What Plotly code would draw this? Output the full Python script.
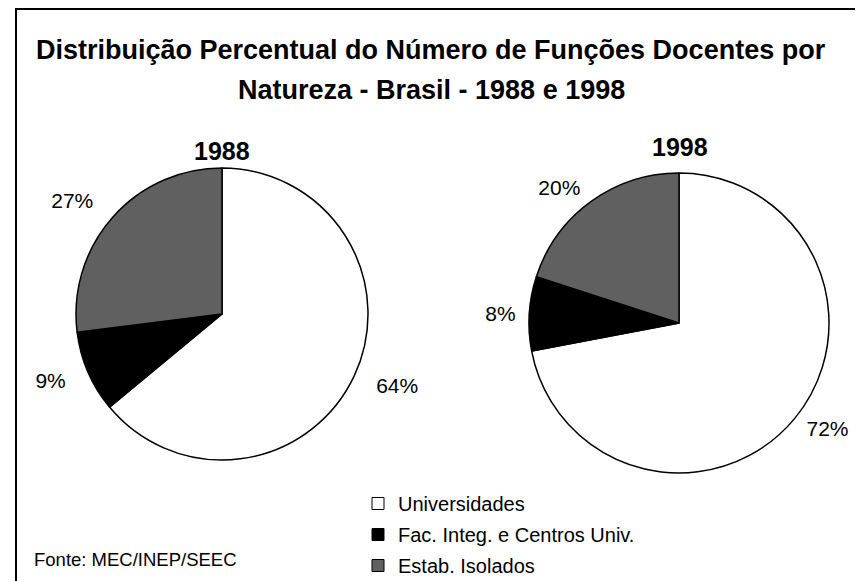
import plotly.graph_objects as go

labels = ['Universidades', 'Fac. Integ. e Centros Univ.', 'Estab. Isolados']
values_1988 = [64, 9, 27]
values_1998 = [72, 8, 20]
colors = ['#ffffff', '#000000', '#606060']

W, H = 863, 581
OFF = 8  # the page body adds an 8px margin, so shift everything up/left
FONT = 'Arial, Liberation Sans, sans-serif'


def px_x(x):
    return (x - OFF) / W


def px_y(y):
    return 1 - (y - OFF) / H


def domain(cx, cy, r):
    return dict(x=[px_x(cx - r), px_x(cx + r)], y=[px_y(cy + r), px_y(cy - r)])


fig = go.Figure()

# (values, center x, center y, radius, label radius)
pies = [(values_1988, 222, 314, 146, 164), (values_1998, 679, 323, 150, 158)]
for vals, cx, cy, r, rl in pies:
    # the visible pie
    fig.add_trace(go.Pie(
        labels=labels, values=vals, sort=False, direction='clockwise',
        marker=dict(colors=colors, line=dict(color='black', width=1.5)),
        textinfo='none', domain=domain(cx, cy, r),
        hoverinfo='label+percent', showlegend=False,
    ))
    # a transparent, slightly larger copy that only carries the % labels
    fig.add_trace(go.Pie(
        labels=labels, values=vals, sort=False, direction='clockwise',
        marker=dict(colors=['rgba(0,0,0,0)'] * 3, line=dict(width=0)),
        textposition='outside', texttemplate='%{percent:.0%}',
        textfont=dict(size=21, color='black', family=FONT),
        domain=domain(cx, cy, rl), hoverinfo='skip', showlegend=False,
    ))

# legend entries
for i, (name, c) in enumerate(zip(labels, colors)):
    fig.add_trace(go.Scatter(
        x=[None], y=[None], mode='markers', name=name, legendgroup=str(i),
        marker=dict(symbol='square', size=12, color=c,
                    line=dict(color='black', width=1)),
    ))

annotations = [
    dict(text='<b>Distribuição Percentual do Número de Funções Docentes por</b>',
         x=px_x(431), y=px_y(50), font=dict(size=27)),
    dict(text='<b>Natureza - Brasil - 1988 e 1998</b>',
         x=px_x(431), y=px_y(90), font=dict(size=27)),
    dict(text='<b>1988</b>', x=px_x(222), y=px_y(151), font=dict(size=25)),
    dict(text='<b>1998</b>', x=px_x(680), y=px_y(147), font=dict(size=25)),
    dict(text='Fonte: MEC/INEP/SEEC', x=px_x(32), y=px_y(559), xanchor='left',
         font=dict(size=18.5)),
]
for a in annotations:
    a.setdefault('xanchor', 'center')
    a.update(xref='paper', yref='paper', yanchor='middle', showarrow=False)
    a['font'].update(family=FONT, color='black')

fig.update_layout(
    width=W, height=H,
    margin=dict(l=0, r=0, t=0, b=0),
    paper_bgcolor='white', plot_bgcolor='white',
    font=dict(family=FONT, color='black'),
    xaxis=dict(visible=False), yaxis=dict(visible=False),
    annotations=annotations,
    legend=dict(x=px_x(358), y=px_y(484), xanchor='left', yanchor='top',
                font=dict(size=20, family=FONT, color='black'),
                traceorder='grouped', tracegroupgap=2, itemwidth=30,
                bgcolor='rgba(0,0,0,0)', itemclick=False),
    shapes=[dict(type='rect', xref='paper', yref='paper',
                 x0=px_x(16), x1=1.02, y0=-0.02, y1=px_y(9),
                 line=dict(color='black', width=2))],
)

fig.write_html('out.html')
